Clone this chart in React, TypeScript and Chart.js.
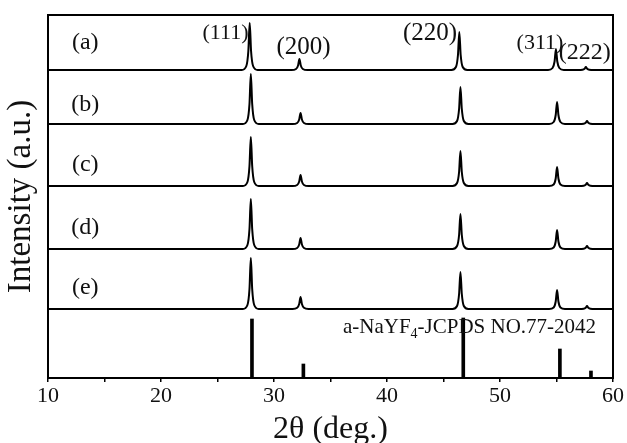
import React, { useEffect, useRef } from 'react';
import { Chart, registerables } from 'chart.js';

Chart.register(...registerables);

// 2θ sampling points (deg.) for sample (a) and for samples (b)-(e)
const TWO_THETA_A = [10,
  27.15, 27.55, 27.73, 27.85, 27.97, 28.15, 28.55,
  31.55, 31.95, 32.13, 32.25, 32.37, 32.55, 32.95,
  45.7, 46.1, 46.28, 46.4, 46.52, 46.7, 47.1,
  54.25, 54.65, 54.83, 54.95, 55.07, 55.25, 55.65,
  56.9, 57.3, 57.48, 57.6, 57.72, 57.9, 58.3,
  60];
const TWO_THETA = [10,
  27.25, 27.65, 27.83, 27.95, 28.07, 28.25, 28.65,
  31.65, 32.05, 32.23, 32.35, 32.47, 32.65, 33.05,
  45.8, 46.2, 46.38, 46.5, 46.62, 46.8, 47.2,
  54.35, 54.75, 54.93, 55.05, 55.17, 55.35, 55.75,
  57.0, 57.4, 57.58, 57.7, 57.82, 58.0, 58.4,
  60];

// Intensities (a.u.)
const INTENSITY_A = [0,
  0, 4, 19, 47, 19, 4, 0,
  0, 1, 4.5, 11, 4.5, 1, 0,
  0, 3, 15, 38, 15, 3, 0,
  0, 2, 8.5, 21, 8.5, 2, 0,
  0, 0.3, 1.2, 3, 1.2, 0.3, 0,
  0];
const INTENSITY_B = [0,
  0, 4, 20, 50, 20, 4, 0,
  0, 1, 4.5, 11, 4.5, 1, 0,
  0, 3, 15, 37, 15, 3, 0,
  0, 2, 9, 22, 9, 2, 0,
  0, 0.3, 1.2, 3, 1.2, 0.3, 0,
  0];
const INTENSITY_C = [0,
  0, 4, 20, 49, 20, 4, 0,
  0, 1, 4.5, 11, 4.5, 1, 0,
  0, 3, 14, 35, 14, 3, 0,
  0, 1.5, 7.5, 19, 7.5, 1.5, 0,
  0, 0.3, 1.2, 3, 1.2, 0.3, 0,
  0];
const INTENSITY_D = [0,
  0, 4, 20, 50, 20, 4, 0,
  0, 1, 4.5, 11, 4.5, 1, 0,
  0, 3, 14, 35, 14, 3, 0,
  0, 1.5, 7.5, 19, 7.5, 1.5, 0,
  0, 0.3, 1.2, 3, 1.2, 0.3, 0,
  0];
const INTENSITY_E = [0,
  0, 4, 20, 51, 20, 4, 0,
  0, 1.2, 5, 12, 5, 1.2, 0,
  0, 3, 15, 37, 15, 3, 0,
  0, 1.5, 7.5, 19, 7.5, 1.5, 0,
  0, 0.3, 1.2, 3, 1.2, 0.3, 0,
  0];

// JCPDS NO.77-2042 reference lines
const REF_TWO_THETA = [28.05, 32.6, 46.75, 55.3, 58.05];
const REF_INTENSITY = [59, 14, 60, 29, 7];

const SAMPLE_LABELS = ['(a)', '(b)', '(c)', '(d)', '(e)'];
const PEAK_LABELS = ['(111)', '(200)', '(220)', '(311)', '(222)'];
const REF_LABEL = ['a-NaYF', '4', '-JCPDS NO.77-2042'];
const X_TICKS = [10, 20, 30, 40, 50, 60];

// layout (display only)
const OFFSETS = [308, 254, 192, 129, 69];
const SAMPLE_LABEL_POS = [[13.3, 335], [13.3, 273], [13.3, 213], [13.3, 150], [13.3, 90]];
const PEAK_LABEL_POS = [[25.71, 345, 22], [32.61, 331, 25], [43.81, 345, 25], [53.54, 335, 22], [57.5, 325, 24]];
const REF_LABEL_POS = [36.1, 51];

const FONT = "'Liberation Serif', 'Times New Roman', serif";

export default function App() {
  const ref = useRef<HTMLCanvasElement | null>(null);
  useEffect(() => {
    if (!ref.current) return;
    const series = [
      [TWO_THETA_A, INTENSITY_A],
      [TWO_THETA, INTENSITY_B],
      [TWO_THETA, INTENSITY_C],
      [TWO_THETA, INTENSITY_D],
      [TWO_THETA, INTENSITY_E],
    ];
    const lineSets: any[] = series.map(([xs, ys], i) => ({
      type: 'line',
      label: SAMPLE_LABELS[i],
      data: (xs as number[]).map((x, j) => ({ x, y: (ys as number[])[j] + OFFSETS[i] })),
      borderColor: '#000',
      borderWidth: 2,
      pointRadius: 0,
      cubicInterpolationMode: 'monotone',
      fill: false,
    }));
    const barSet: any = {
      type: 'bar',
      label: 'JCPDS NO.77-2042',
      data: REF_TWO_THETA.map((x, i) => ({ x, y: REF_INTENSITY[i] })),
      backgroundColor: '#000',
      borderWidth: 0,
      barThickness: 3,
    };

    const textPlugin = {
      id: 'texts',
      afterDraw(chart: any) {
        const { ctx, chartArea, scales } = chart;
        const xs = scales.x, ys = scales.y;
        ctx.save();
        ctx.strokeStyle = '#000';
        ctx.lineWidth = 2;
        ctx.strokeRect(chartArea.left, chartArea.top, chartArea.right - chartArea.left, chartArea.bottom - chartArea.top);
        ctx.fillStyle = '#111';
        ctx.textBaseline = 'middle';
        ctx.textAlign = 'center';
        ctx.font = `24px ${FONT}`;
        SAMPLE_LABELS.forEach((t, i) => {
          ctx.fillText(t, xs.getPixelForValue(SAMPLE_LABEL_POS[i][0]), ys.getPixelForValue(SAMPLE_LABEL_POS[i][1]));
        });
        PEAK_LABELS.forEach((t, i) => {
          const [px, py, fs] = PEAK_LABEL_POS[i];
          ctx.font = `${fs}px ${FONT}`;
          ctx.fillText(t, xs.getPixelForValue(px), ys.getPixelForValue(py));
        });
        ctx.textAlign = 'left';
        let x = xs.getPixelForValue(REF_LABEL_POS[0]);
        const y = ys.getPixelForValue(REF_LABEL_POS[1]);
        ctx.font = `21px ${FONT}`;
        ctx.fillText(REF_LABEL[0], x, y);
        x += ctx.measureText(REF_LABEL[0]).width;
        ctx.font = `14px ${FONT}`;
        ctx.fillText(REF_LABEL[1], x, y + 7);
        x += ctx.measureText(REF_LABEL[1]).width;
        ctx.font = `21px ${FONT}`;
        ctx.fillText(REF_LABEL[2], x, y);
        ctx.restore();
      },
    };

    const chart = new Chart(ref.current, {
      type: 'line',
      data: { datasets: [...lineSets, barSet] },
      options: {
        animation: false,
        responsive: false,
        maintainAspectRatio: false,
        layout: { padding: { left: 0, right: 14, top: 15, bottom: 0 } },
        plugins: { legend: { display: false }, tooltip: { enabled: false } },
        scales: {
          x: {
            type: 'linear',
            min: 10,
            max: 60,
            offset: false,
            afterFit: (s: any) => { s.height = 65; },
            afterBuildTicks: (s: any) => {
              const t: any[] = [];
              for (let v = 10; v <= 60; v += 5) t.push({ value: v });
              s.ticks = t;
            },
            ticks: {
              autoSkip: false,
              maxRotation: 0,
              color: '#111',
              padding: 1,
              font: { family: FONT, size: 22 },
              callback: (v: any) => (X_TICKS.includes(Number(v)) ? String(v) : ''),
            },
            grid: { drawOnChartArea: false, drawTicks: true, tickLength: 4, color: '#000', lineWidth: 1.5, offset: false },
            border: { display: true, color: '#000', width: 2 },
            title: { display: true, text: '2θ (deg.)', color: '#111', font: { family: FONT, size: 32 }, padding: { top: 0, bottom: -6 } },
          },
          y: {
            type: 'linear',
            min: 0,
            max: 363,
            afterFit: (s: any) => { s.width = 48; },
            ticks: { display: false },
            grid: { display: false, drawTicks: false },
            border: { display: true, color: '#000', width: 2 },
            title: { display: true, text: 'Intensity (a.u.)', color: '#111', font: { family: FONT, size: 33 }, padding: { top: 2, bottom: 0 } },
          },
        },
      } as any,
      plugins: [textPlugin],
    });
    return () => chart.destroy();
  }, []);
  return (
    <div style={{ position: 'absolute', left: 0, top: 0, width: 627, height: 443, background: '#fff' }}>
      <canvas ref={ref} width={627} height={443} style={{ width: 627, height: 443 }} />
    </div>
  );
}
